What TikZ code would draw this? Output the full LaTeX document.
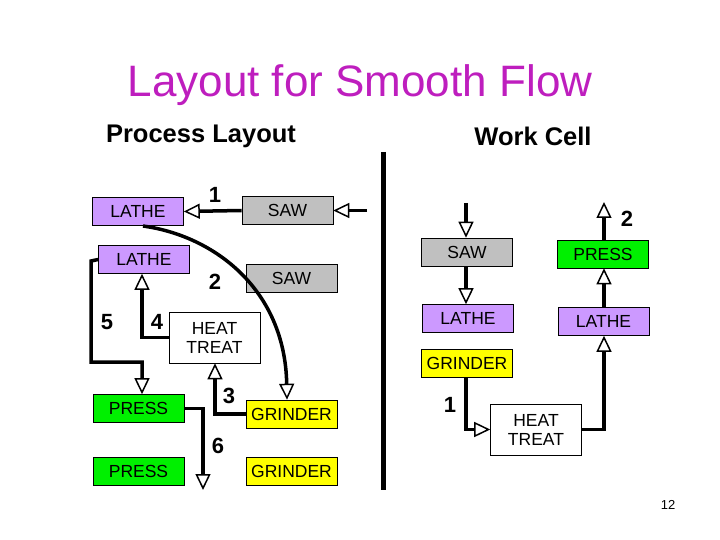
\documentclass[tikz,border=0pt]{standalone}
\usepackage{fontspec}
\setmainfont{Liberation Sans}
\usetikzlibrary{arrows.meta}
\definecolor{lav}{RGB}{204,153,255}
\definecolor{gry}{RGB}{192,192,192}
\definecolor{grn}{RGB}{0,240,0}
\definecolor{yel}{RGB}{255,255,0}
\definecolor{ttl}{RGB}{190,30,190}
\begin{document}
\begin{tikzpicture}[x=1pt,y=-1pt,
  box/.style={draw=black,line width=0.6pt,minimum width=91pt,minimum height=28pt,inner sep=0pt,font=\fontsize{17.5}{19}\selectfont,align=center},
  lathe/.style={box,fill=lav},saw/.style={box,fill=gry},press/.style={box,fill=grn},
  grind/.style={box,fill=yel},heat/.style={box,fill=white,minimum height=51pt},
  num/.style={font=\fontsize{22}{22}\selectfont\bfseries},
  flow/.style={line width=3.5pt,-{Triangle[open,length=16pt,width=15pt,line width=1.5pt]}},
  line/.style={line width=3.5pt}]
\useasboundingbox (0,0) rectangle (720,540);
\node[font=\fontsize{44}{46}\selectfont,text=ttl] (title) at (360,85) {Layout for Smooth Flow};
\node[font=\fontsize{25.5}{27}\selectfont\bfseries] (pl) at (201,136) {Process Layout};
\node[font=\fontsize{25.5}{27}\selectfont\bfseries] (wc) at (533,136) {Work Cell};
\draw[line width=5pt] (383,152) -- (383,490);
% left
\node[lathe] (l1) at (138,211.5) {LATHE};
\node[saw] (s1) at (287.5,210.5) {SAW};
\node[lathe] (l2) at (144,259.5) {LATHE};
\node[saw] (s2) at (291.5,278) {SAW};
\node[heat] (h1) at (214.5,337.5) {HEAT\\TREAT};
\node[press] (p1) at (138.5,408.5) {PRESS};
\node[grind] (g1) at (291.5,414) {GRINDER};
\node[press] (p2) at (138.5,471) {PRESS};
\node[grind] (g2) at (291.5,471) {GRINDER};
\coordinate (in1) at (367,210.5);
\coordinate (out6) at (203,490);
\node[num] (n1) at (215,195) {1};
\node[num] (n2) at (215,282) {2};
\node[num] (n3) at (229,396) {3};
\node[num] (n4) at (157,322) {4};
\node[num] (n5) at (107,322) {5};
\node[num] (n6) at (218,446) {6};
\draw[flow] (in1) -- (s1.east);
\draw[flow] (s1.west) -- (l1.east);
\draw[flow] (143,226) .. controls (215,236) and (285,290) .. (g1.north -| 287,0);
\draw[flow] (h1.west) -| (l2.south -| 142,0);
\draw[flow] (l2.west) -- (91,261) -- (91,362) -| (p1.north -| 142,0);
\draw[flow] (g1.west) -| (h1.south -| 215,0);
\draw[flow] (p1.east) -| (out6);
% right
\node[saw] (s3) at (467,252) {SAW};
\node[lathe] (l3) at (468,318.5) {LATHE};
\node[grind] (g3) at (467,363.5) {GRINDER};
\node[press] (p3) at (603,254) {PRESS};
\node[lathe] (l4) at (603.5,321.5) {LATHE};
\node[heat] (h2) at (536,429.5) {HEAT\\TREAT};
\coordinate (in3) at (466,203);
\coordinate (out3) at (604,202);
\node[num] (m1) at (450,405) {1};
\node[num] (m2) at (627,219) {2};
\draw[flow] (in3) -- (s3.north -| 466,0);
\draw[flow] (s3.south -| 466,0) -- (l3.north -| 466,0);
\draw[flow] (g3.south -| 466,0) |- (h2.west);
\draw[flow] (h2.east) -| (l4.south -| 604,0);
\draw[flow] (l4.north -| 604,0) -- (p3.south -| 604,0);
\draw[flow] (p3.north -| 604,0) -- (out3);
\node[font=\fontsize{13}{13}\selectfont] (pg) at (668,505) {12};
\end{tikzpicture}
\end{document}
